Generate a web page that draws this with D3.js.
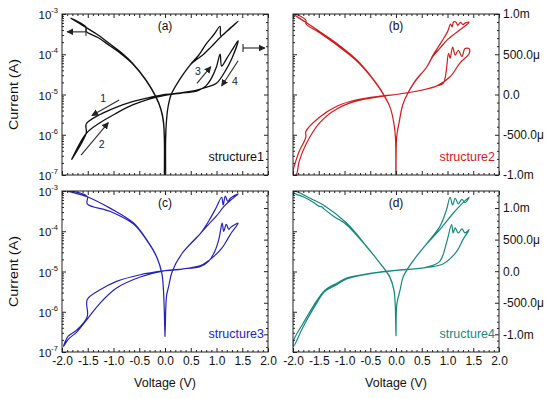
<!DOCTYPE html>
<html>
<head>
<meta charset="utf-8">
<script src="https://cdn.jsdelivr.net/npm/d3@7"></script>
<style>
  body { margin: 0; background: #fff; }
  svg { display: block; }
  text { font-family: "Liberation Sans", Arial, sans-serif; }
</style>
</head>
<body>
<svg id="chart" width="550" height="399"></svg>
<script>
// tick values
const voltageTicks = [-2, -1.5, -1, -0.5, 0, 0.5, 1, 1.5, 2];
const decadeTicks = [1e-3, 1e-4, 1e-5, 1e-6, 1e-7];
const rightTicks = [-1e-3, -5e-4, 0, 5e-4, 1e-3];

const names = ["structure1", "structure2", "structure3", "structure4"];
const tags = ["(a)", "(b)", "(c)", "(d)"];
const colors = ["#111111", "#d11a1a", "#2323bf", "#16897f"];
// right (linear) current axis of each panel, A
const rightDomains = [[-1e-3, 1e-3], [-1e-3, 1e-3], [-1.28e-3, 1.27e-3], [-1.28e-3, 1.27e-3]];

// |I| (A) vs V, read against the left log axis, in sweep order
const logCurve1 = [
  [0, 3e-8], [-0.012, 8e-7], [-0.03, 2.2e-6], [-0.08, 4.4e-6], [-0.18, 9e-6], [-0.37, 2.3e-5],
  [-0.63, 6e-5], [-0.85, 1.1e-4], [-1.08, 1.85e-4], [-1.3, 3e-4], [-1.53, 4.6e-4], [-1.83, 7.9e-4],
  [-1.53, 4.7e-4], [-1.53, 3.7e-4], [-1.3, 2.6e-4], [-1.08, 1.65e-4], [-0.85, 1.02e-4], [-0.63, 5.8e-5],
  [-0.37, 2.25e-5], [-0.18, 8.8e-6], [-0.08, 4.2e-6], [-0.03, 2e-6], [-0.012, 7e-7], [-0.002, 3e-8],
  [0.002, 3e-8], [0.012, 7e-7], [0.03, 2.4e-6], [0.06, 5e-6], [0.12, 1e-5], [0.28, 2.3e-5],
  [0.5, 5.7e-5], [0.65, 9.3e-5], [0.8, 1.8e-4], [0.95, 3.1e-4], [1.07, 4.9e-4], [1.085, 2.85e-4],
  [1.25, 4.3e-4], [1.42, 6.6e-4], [1.25, 4.2e-4], [1.07, 2.6e-4], [0.9, 1.55e-4], [0.75, 1e-4],
  [0.6, 7.2e-5], [0.5, 5.6e-5], [0.28, 2.3e-5], [0.12, 1e-5], [0.06, 5e-6], [0.03, 2.3e-6],
  [0.01, 8e-7], [0, 3e-8]
];
const logCurve2 = [
  [0, 4e-8], [-0.01, 8e-7], [-0.04, 1.9e-6], [-0.12, 5e-6], [-0.31, 1.4e-5], [-0.5, 3e-5],
  [-0.76, 7.2e-5], [-1.15, 1.85e-4], [-1.5, 3.8e-4], [-1.75, 6.2e-4], [-2.0, 1.02e-3],
  [-1.97, 1.02e-3], [-1.75, 7e-4], [-1.75, 5.7e-4], [-1.5, 3.5e-4], [-1.15, 1.7e-4], [-0.76, 6.8e-5],
  [-0.5, 2.9e-5], [-0.31, 1.35e-5], [-0.12, 5e-6], [-0.04, 1.9e-6], [-0.01, 8e-7], [0, 4e-8],
  [0.01, 8e-7], [0.04, 1.5e-6], [0.06, 2e-6], [0.14, 6e-6], [0.34, 1.9e-5], [0.6, 4.9e-5],
  [0.72, 9.5e-5], [0.88, 2e-4], [1.0, 3.6e-4], [1.06, 5.6e-4], [1.09, 4.8e-4], [1.12, 6.4e-4],
  [1.17, 6.2e-4], [1.2, 5.2e-4], [1.25, 6.2e-4], [1.3, 5.5e-4], [1.35, 6e-4], [1.42, 6.2e-4],
  [1.3, 4.6e-4], [1.15, 3.3e-4], [1.0, 2.3e-4], [0.85, 1.4e-4], [0.72, 9e-5], [0.6, 4.9e-5],
  [0.34, 1.85e-5], [0.14, 6e-6], [0.06, 2e-6], [0.01, 8e-7], [0, 4e-8]
];
const logCurve3 = [
  [0, 2.4e-7], [-0.015, 1.2e-6], [-0.03, 3.5e-6], [-0.06, 8.9e-6], [-0.16, 2.3e-5], [-0.35, 6e-5],
  [-0.61, 1.6e-4], [-1.06, 3.7e-4], [-1.51, 7.2e-4], [-1.95, 1.05e-3],
  [-1.92, 1.05e-3], [-1.51, 7.3e-4], [-1.51, 4.8e-4], [-1.06, 3.1e-4], [-0.61, 1.5e-4], [-0.35, 5.8e-5],
  [-0.16, 2.25e-5], [-0.06, 8.7e-6], [-0.03, 3.4e-6], [-0.015, 1.2e-6], [0, 2.4e-7],
  [0.015, 1.2e-6], [0.03, 2.5e-6], [0.07, 4.2e-6], [0.14, 1e-5], [0.33, 2.8e-5], [0.69, 8.9e-5],
  [0.85, 1.8e-4], [1.0, 4e-4], [1.1, 7e-4], [1.13, 4.5e-4], [1.17, 7.5e-4], [1.22, 5.5e-4],
  [1.27, 6.6e-4], [1.42, 8.5e-4], [1.3, 6.3e-4], [1.15, 4.2e-4], [1.0, 2.4e-4], [0.85, 1.5e-4],
  [0.69, 8.9e-5], [0.33, 2.8e-5], [0.14, 1e-5], [0.07, 4.2e-6], [0.03, 2.5e-6], [0.015, 1.2e-6],
  [0, 2.4e-7]
];
const logCurve4 = [
  [0, 2.5e-7], [-0.015, 1.5e-6], [-0.04, 3.5e-6], [-0.12, 7.4e-6], [-0.31, 1.6e-5], [-0.57, 4.2e-5],
  [-0.96, 1.6e-4], [-1.41, 4.5e-4], [-1.6, 6e-4], [-1.98, 1e-3],
  [-1.98, 9e-4], [-1.8, 7.2e-4], [-1.6, 5.2e-4], [-1.5, 4.2e-4], [-1.45, 4.1e-4], [-1.4, 3.6e-4],
  [-1.2, 2.3e-4], [-0.96, 1.45e-4], [-0.57, 4.1e-5], [-0.31, 1.6e-5], [-0.12, 7.2e-6], [-0.04, 3.4e-6],
  [-0.015, 1.5e-6], [0, 2.5e-7],
  [0.015, 1.5e-6], [0.08, 3.5e-6], [0.14, 7.4e-6], [0.34, 1.9e-5], [0.6, 5e-5], [0.85, 1.3e-4],
  [0.98, 3.4e-4], [1.05, 7e-4], [1.1, 4.5e-4], [1.15, 6.6e-4], [1.21, 4.8e-4], [1.28, 6.2e-4],
  [1.34, 5.1e-4], [1.42, 7e-4], [1.25, 4.4e-4], [1.11, 2.8e-4], [0.85, 1.1e-4], [0.6, 4.9e-5],
  [0.34, 1.9e-5], [0.14, 7.4e-6], [0.08, 3.5e-6], [0.015, 1.5e-6], [0, 2.5e-7]
];

// I (A) vs V, read against the right linear axis, in sweep order
const linCurve1 = [
  [0, 0], [-0.31, -4e-5], [-0.63, -8.9e-5], [-0.95, -1.59e-4], [-1.28, -2.55e-4], [-1.53, -3.66e-4],
  [-1.53, -4.8e-4], [-1.81, -8.05e-4], [-1.53, -4.85e-4], [-1.28, -3.58e-4], [-0.95, -2.34e-4],
  [-0.63, -1.3e-4], [-0.31, -5.6e-5], [0, -1e-5], [0.3, 1.5e-5], [0.6, 4e-5], [0.67, 5.6e-5],
  [0.8, 1.1e-4], [0.9, 2e-4], [1.0, 3.45e-4], [1.07, 5e-4], [1.1, 3.54e-4], [1.2, 4.5e-4],
  [1.3, 5.5e-4], [1.42, 6.68e-4], [1.3, 4.5e-4], [1.2, 3.25e-4], [1.0, 1.39e-4], [0.8, 8.9e-5],
  [0.6, 5e-5], [0.3, 2e-5], [0, 0]
];
const linCurve2 = [
  [0, 0], [-0.31, -2e-5], [-0.76, -6.5e-5], [-1.15, -1.45e-4], [-1.48, -2.8e-4], [-1.75, -4.6e-4],
  [-1.75, -5.3e-4], [-1.9, -7.4e-4], [-2.0, -1.0e-3], [-1.94, -1.0e-3], [-1.88, -8.3e-4],
  [-1.75, -6.2e-4], [-1.48, -3.5e-4], [-1.15, -1.8e-4], [-0.76, -8e-5], [-0.31, -2.7e-5], [0, 0],
  [0.47, 5e-5], [0.79, 1.05e-4], [0.92, 1.4e-4], [1.02, 5.1e-4], [1.05, 4.5e-4], [1.1, 5.9e-4],
  [1.15, 4.9e-4], [1.21, 5.5e-4], [1.28, 4.7e-4], [1.34, 5.7e-4], [1.42, 5.7e-4], [1.42, 5.1e-4],
  [1.24, 3.9e-4], [1.05, 2.2e-4], [0.79, 1.05e-4], [0.47, 5e-5], [0, 0]
];
const linCurve3 = [
  [0, 8e-6], [-0.48, -5.6e-5], [-0.94, -1.61e-4], [-1.26, -2.94e-4], [-1.51, -4.5e-4],
  [-1.51, -7.2e-4], [-1.71, -9.3e-4], [-1.88, -1.03e-3], [-1.97, -1.19e-3], [-1.88, -1.08e-3],
  [-1.71, -9.6e-4], [-1.51, -7.6e-4], [-1.26, -5.05e-4], [-0.94, -2.67e-4], [-0.48, -9.3e-5], [0, 8e-6],
  [0.33, 3.4e-5], [0.69, 7.7e-5], [0.85, 1.6e-4], [0.97, 3.2e-4], [1.05, 5.2e-4], [1.11, 7.6e-4],
  [1.14, 6.3e-4], [1.19, 7.4e-4], [1.24, 6.6e-4], [1.27, 6.9e-4], [1.42, 7.6e-4], [1.3, 6.2e-4],
  [1.21, 5e-4], [1.1, 3.6e-4], [0.95, 2.35e-4], [0.8, 1.4e-4], [0.69, 9e-5], [0.33, 3.4e-5], [0, 8e-6]
];
const linCurve4 = [
  [0, 1.3e-5], [-0.5, -4e-5], [-0.96, -1.24e-4], [-1.15, -2.14e-4], [-1.38, -3.2e-4], [-1.54, -5.05e-4],
  [-1.8, -8.76e-4], [-1.99, -1.19e-3], [-1.99, -1.1e-3], [-1.8, -8.2e-4], [-1.54, -4.7e-4],
  [-1.38, -3.0e-4], [-1.15, -1.9e-4], [-0.96, -1.1e-4], [-0.5, -3.5e-5], [0, 1.3e-5],
  [0.6, 6.6e-5], [0.85, 1.56e-4], [0.98, 4.47e-4], [1.08, 7.38e-4], [1.11, 6.06e-4], [1.15, 6.85e-4],
  [1.21, 6.06e-4], [1.28, 6.69e-4], [1.34, 6.06e-4], [1.42, 6.59e-4], [1.3, 5e-4], [1.18, 3.15e-4],
  [0.92, 1.19e-4], [0.6, 6e-5], [0, 1.3e-5]
];

// annotations of panel (a): [V, I] on the log axis
const axisArrowLeft = [[-1.534, 3.6e-4], [-1.9, 3.6e-4]];
const axisArrowRight = [[1.515, 1.43e-4], [1.94, 1.43e-4]];
const sweepArrows = [
  { n: "1", from: [-0.89, 7.3e-6], to: [-1.42, 3e-6], at: [-1.2, 8.2e-6] },
  { n: "2", from: [-1.63, 3.1e-7], to: [-1.1, 2e-6], at: [-1.23, 5.9e-7] },
  { n: "3", from: [0.62, 1.9e-5], to: [0.89, 4.9e-5], at: [0.64, 3.8e-5] },
  { n: "4", from: [1.42, 6.9e-5], to: [1.1, 1.63e-5], at: [1.36, 2.16e-5] }
];

const logCurves = [logCurve1, logCurve2, logCurve3, logCurve4];
const linCurves = [linCurve1, linCurve2, linCurve3, linCurve4];

const svg = d3.select("#chart");
const PW = 206, PH = 161;
const origins = [[62, 14], [293, 14], [62, 191], [293, 191]];
const font = "'Liberation Sans', Arial, sans-serif";

const fmtRight = v => {
  if (v === 0) return "0.0";
  const a = Math.abs(v), s = v < 0 ? "-" : "";
  return a >= 1e-3 ? s + (a * 1e3).toFixed(1) + "m" : s + (a * 1e6).toFixed(1) + "\u03bc";
};

const voltMinor = d3.range(-20, 21).map(k => k / 10).filter(v => Math.abs(v * 2 - Math.round(v * 2)) > 1e-6);
const logMinor = [];
decadeTicks.slice(1).forEach(d => { for (let k = 2; k <= 9; k++) logMinor.push(d * k); });

svg.append("defs").append("marker")
  .attr("id", "head")
  .attr("viewBox", "0 0 10 10")
  .attr("refX", 9).attr("refY", 5)
  .attr("markerWidth", 7).attr("markerHeight", 7)
  .attr("markerUnits", "userSpaceOnUse")
  .attr("orient", "auto")
  .append("path").attr("d", "M0,0L10,5L0,10z").attr("fill", "#222");

const smooth = d3.curveCatmullRom.alpha(0.5);

logCurves.forEach((logData, i) => {
  const [ox, oy] = origins[i];
  const x = d3.scaleLinear().domain([-2, 2]).range([ox, ox + PW]);
  const y = d3.scaleLog().domain([1e-7, 1e-3]).range([oy + PH, oy]);
  const yr = d3.scaleLinear().domain(rightDomains[i]).range([oy + PH, oy]);
  const g = svg.append("g");
  const showX = i >= 2, showLeft = i % 2 === 0, showRight = i % 2 === 1;

  g.append("clipPath").attr("id", "clip" + i)
    .append("rect").attr("x", ox).attr("y", oy).attr("width", PW).attr("height", PH);

  const plot = g.append("g").attr("clip-path", `url(#clip${i})`);
  plot.append("path").datum(logData)
    .attr("fill", "none").attr("stroke", colors[i]).attr("stroke-width", i === 0 ? 1.3 : 1.2)
    .attr("stroke-linejoin", "round")
    .attr("d", d3.line().curve(smooth).x(d => x(d[0])).y(d => y(d[1])));
  plot.append("path").datum(linCurves[i])
    .attr("fill", "none").attr("stroke", colors[i]).attr("stroke-width", i === 0 ? 1.3 : 1.2)
    .attr("stroke-linejoin", "round")
    .attr("d", d3.line().curve(smooth).x(d => x(d[0])).y(d => yr(d[1])));

  const axes = [];
  axes.push(g.append("g").attr("transform", `translate(0,${oy + PH})`)
    .call(d3.axisBottom(x).tickValues(voltageTicks).tickSizeInner(-4).tickSizeOuter(0).tickPadding(4)
      .tickFormat(showX ? v => v.toFixed(1) : "")));
  axes.push(g.append("g").attr("transform", `translate(0,${oy + PH})`)
    .call(d3.axisBottom(x).tickValues(voltMinor).tickSizeInner(-2).tickSizeOuter(0).tickFormat("")));
  axes.push(g.append("g").attr("transform", `translate(0,${oy})`)
    .call(d3.axisTop(x).tickValues(voltageTicks).tickSizeInner(-4).tickSizeOuter(0).tickFormat("")));
  axes.push(g.append("g").attr("transform", `translate(0,${oy})`)
    .call(d3.axisTop(x).tickValues(voltMinor).tickSizeInner(-2).tickSizeOuter(0).tickFormat("")));
  axes.push(g.append("g").attr("transform", `translate(${ox},0)`)
    .call(d3.axisLeft(y).tickValues(decadeTicks).tickSizeInner(-4).tickSizeOuter(0).tickFormat("")));
  axes.push(g.append("g").attr("transform", `translate(${ox},0)`)
    .call(d3.axisLeft(y).tickValues(logMinor).tickSizeInner(-2).tickSizeOuter(0).tickFormat("")));
  const rMinor = d3.range(-13, 14).map(k => k * 1e-4)
    .filter(v => v >= rightDomains[i][0] && v <= rightDomains[i][1] && Math.abs(v * 2e3 - Math.round(v * 2e3)) > 1e-6);
  axes.push(g.append("g").attr("transform", `translate(${ox + PW},0)`)
    .call(d3.axisRight(yr).tickValues(rightTicks).tickSizeInner(-4).tickSizeOuter(0).tickPadding(4)
      .tickFormat(showRight ? fmtRight : "")));
  axes.push(g.append("g").attr("transform", `translate(${ox + PW},0)`)
    .call(d3.axisRight(yr).tickValues(rMinor).tickSizeInner(-2).tickSizeOuter(0).tickFormat("")));

  axes.forEach(a => {
    a.attr("font-size", 12).attr("font-family", font);
    a.select(".domain").remove();
    a.selectAll(".tick line").attr("stroke", "#222");
    a.selectAll(".tick text").attr("fill", "#111");
  });

  if (showLeft) {
    decadeTicks.forEach(d => {
      const t = g.append("text").attr("x", ox - 4).attr("y", y(d) + 5)
        .attr("text-anchor", "end").attr("fill", "#111");
      t.append("tspan").attr("font-size", 11.5).text("10");
      t.append("tspan").attr("font-size", 7.5).attr("dy", -6).text(String(Math.round(Math.log10(d))));
    });
  }

  g.append("rect").attr("x", ox).attr("y", oy).attr("width", PW).attr("height", PH)
    .attr("fill", "none").attr("stroke", "#222").attr("stroke-width", 1);

  g.append("text").attr("x", x(0)).attr("y", oy + 16).attr("text-anchor", "middle")
    .attr("font-size", 12).attr("fill", "#111").text(tags[i]);
  g.append("text").attr("x", ox + PW - 4).attr("y", oy + PH - 14).attr("text-anchor", "end")
    .attr("font-size", 12.5).attr("fill", colors[i]).text(names[i]);

  if (showX) {
    svg.append("text").attr("x", ox + PW / 2).attr("y", oy + PH + 35).attr("text-anchor", "middle")
      .attr("font-size", 12.5).attr("fill", "#111").text("Voltage (V)");
  }
  if (showLeft) {
    svg.append("text").attr("transform", `translate(18,${oy + PH / 2}) rotate(-90)`)
      .attr("text-anchor", "middle").attr("font-size", 12.5).attr("fill", "#111")
      .attr("textLength", 71).attr("lengthAdjust", "spacingAndGlyphs").text("Current (A)");
  }

  if (i === 0) {
    const ann = g.append("g").attr("stroke", "#333").attr("stroke-width", 1.2);
    [axisArrowLeft, axisArrowRight].forEach(a => {
      const [p0, p1] = a.map(d => [x(d[0]), y(d[1])]);
      ann.append("line").attr("x1", p0[0]).attr("y1", p0[1]).attr("x2", p1[0]).attr("y2", p1[1])
        .attr("marker-end", "url(#head)");
      ann.append("line").attr("x1", p0[0]).attr("y1", p0[1] - 4).attr("x2", p0[0]).attr("y2", p0[1] + 4);
    });
    sweepArrows.forEach(a => {
      ann.append("line")
        .attr("x1", x(a.from[0])).attr("y1", y(a.from[1]))
        .attr("x2", x(a.to[0])).attr("y2", y(a.to[1]))
        .attr("marker-end", "url(#head)");
      g.append("text").attr("x", x(a.at[0])).attr("y", y(a.at[1]) + 4).attr("text-anchor", "middle")
        .attr("font-size", 10.5).attr("fill", "#222").text(a.n);
    });
  }
});
</script>
</body>
</html>
